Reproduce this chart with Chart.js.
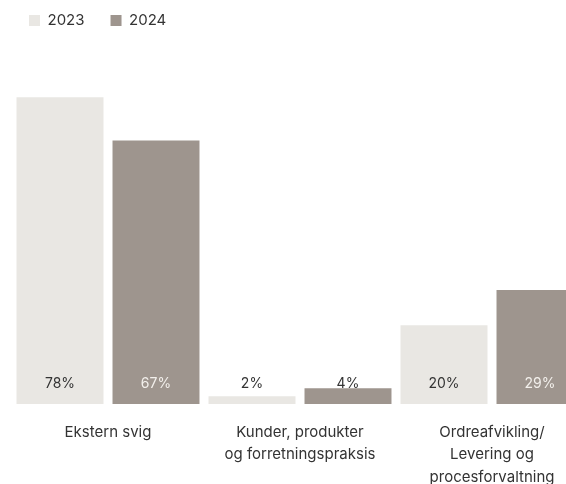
<!DOCTYPE html>
<html>
<head>
<meta charset="utf-8">
<script src="https://cdn.jsdelivr.net/npm/chart.js@4/dist/chart.umd.min.js"></script>
<style>
  html, body { margin: 0; padding: 0; background: #fff; overflow: hidden; }
  #wrap { width: 600px; height: 484px; }
</style>
</head>
<body>
<div id="wrap"><canvas id="riskChart" width="600" height="484"></canvas></div>
<script>
// Chart data
const categories = [
    ['Ekstern svig'],
    ['Kunder, produkter', 'og forretningspraksis'],
    ['Ordreafvikling/', 'Levering og', 'procesforvaltning']
];
const seriesNames = ['2023', '2024'];
const values2023 = [78, 2, 20];
const values2024 = [67, 4, 29];

const COLOR_2023 = '#e9e7e3';
const COLOR_2024 = '#9e958e';
const TEXT = '#333333';
const FONT = 'Inter, "Noto Sans", sans-serif';

// Value labels drawn at a fixed height just above the baseline
const valueLabels = {
    id: 'valueLabels',
    afterDatasetsDraw(chart) {
        const { ctx } = chart;
        const base = chart.scales.y.getPixelForValue(0);
        const y = base - 20;
        ctx.save();
        ctx.font = '14px ' + FONT;
        ctx.textAlign = 'center';
        ctx.textBaseline = 'middle';
        chart.data.datasets.forEach((ds, di) => {
            chart.getDatasetMeta(di).data.forEach((bar, i) => {
                const inside = bar.y < y - 8;
                ctx.fillStyle = (di === 1 && inside) ? '#f3f0ec' : TEXT;
                ctx.fillText(ds.data[i] + '%', bar.x, y);
            });
        });
        ctx.restore();
    }
};

// Fixed legend block height and offset
const legendPlace = {
    id: 'legendPlace',
    beforeInit(chart) {
        const fit = chart.legend.fit;
        chart.legend.fit = function() {
            fit.call(this);
            this.height = 50;
        };
    },
    afterLayout(chart) {
        chart.legend.left = 3;
        chart.legend.top = -13;
    }
};

new Chart(document.getElementById('riskChart'), {
    type: 'bar',
    data: {
        labels: categories,
        datasets: [
            { label: seriesNames[0], data: values2023, backgroundColor: COLOR_2023, borderWidth: 0 },
            { label: seriesNames[1], data: values2024, backgroundColor: COLOR_2024, borderWidth: 0 }
        ]
    },
    options: {
        responsive: false,
        animation: false,
        layout: { padding: { left: 12, right: 12, top: 0, bottom: 0 } },
        datasets: {
            bar: { categoryPercentage: 1, barPercentage: 0.906 }
        },
        plugins: {
            legend: {
                align: 'start',
                labels: {
                    boxWidth: 11,
                    boxHeight: 11,
                    padding: 26,
                    color: TEXT,
                    font: { family: FONT, size: 15 }
                }
            },
            tooltip: { enabled: false }
        },
        scales: {
            x: {
                grid: { display: false },
                border: { display: false },
                ticks: {
                    color: TEXT,
                    padding: 9,
                    autoSkip: false,
                    maxRotation: 0,
                    font: { family: FONT, size: 15, lineHeight: 1.5 }
                },
                afterFit(scale) { scale.height = 80; }
            },
            y: {
                display: false,
                min: 0,
                max: 90
            }
        }
    },
    plugins: [valueLabels, legendPlace]
});
</script>
</body>
</html>
